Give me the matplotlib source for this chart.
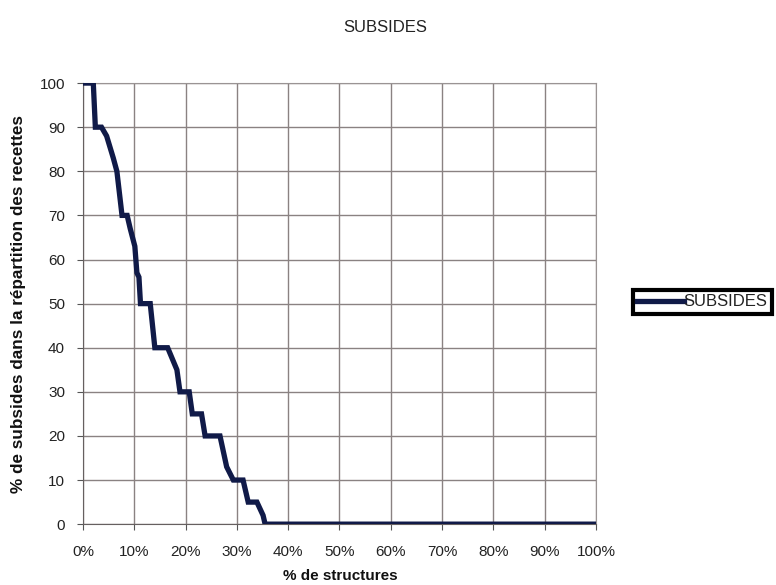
import matplotlib.pyplot as plt
from matplotlib.ticker import FuncFormatter

plt.rcParams['font.family'] = ['Liberation Sans', 'DejaVu Sans']

# courbe en escalier : % de structures / % de subsides
pct_structures = [0, 2.0, 2.4, 3.6, 4.6, 5.9, 6.6, 7.2, 7.6, 8.6, 9.2, 10.1, 10.5,
                  10.9, 11.2, 13.1, 14.0, 16.5, 18.3, 18.9, 20.7, 21.3, 23.1, 23.8,
                  26.7, 28.0, 29.3, 31.2, 32.2, 33.9, 35.1, 35.5, 100]
pct_subsides = [100, 100, 90, 90, 88, 83, 80, 74, 70, 70, 67, 63, 57,
                56, 50, 50, 40, 40, 35, 30, 30, 25, 25, 20,
                20, 13, 10, 10, 5, 5, 2, 0, 0]

x_ticks = list(range(0, 101, 10))
y_ticks = list(range(0, 101, 10))

fig = plt.figure(figsize=(7.76, 5.85), dpi=100)
ax = fig.add_axes([0.107, 0.104, 0.661, 0.754])

ax.plot(pct_structures, pct_subsides, color='#101a48', linewidth=3.8,
        solid_joinstyle='miter', label='SUBSIDES', zorder=3)

ax.set_xlim(0, 100)
ax.set_ylim(0, 100)
ax.set_xticks(x_ticks)
ax.set_yticks(y_ticks)
ax.xaxis.set_major_formatter(FuncFormatter(lambda v, p: f"{int(v)}%"))
ax.grid(True, color='#8a8282', linewidth=1.0)
ax.tick_params(direction='out', length=4, color='#555555', labelsize=11,
               labelcolor='#222222')
ax.tick_params(axis='x', pad=11)
ax.tick_params(axis='y', pad=9)

for cote in ['top', 'right']:
    ax.spines[cote].set_color('#9a9494')
for cote in ['left', 'bottom']:
    ax.spines[cote].set_color('#666060')

fig.text(0.497, 0.953, 'SUBSIDES', ha='center', va='center', fontsize=12,
         color='#222222')
fig.text(0.438, 0.015, '% de structures', ha='center', va='center',
         fontsize=11, fontweight='bold', color='#111111')
fig.text(0.024, 0.481, '% de subsides dans la répartition des recettes',
         ha='center', va='center', rotation=90, fontsize=12.3,
         fontweight='bold', color='#111111')

leg = fig.legend(loc='center', bbox_to_anchor=(0.905, 0.484), fontsize=12,
                 handlelength=2.8, handletextpad=0.0, borderpad=0.25,
                 fancybox=False, edgecolor='black', framealpha=1)
leg.get_frame().set_linewidth(3)
for t in leg.get_texts():
    t.set_color('#222222')

plt.savefig('out.png', dpi=100, facecolor='white')
